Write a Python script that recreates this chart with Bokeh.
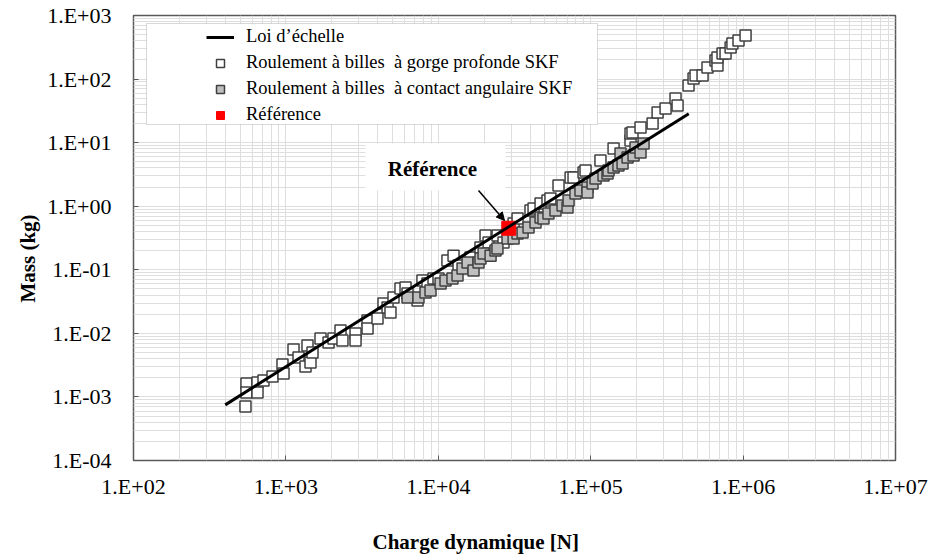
from bokeh.plotting import figure
from bokeh.models import (Range1d, FixedTicker, CustomJSTickFormatter, Legend, LegendItem,
                          BoxAnnotation, Label, Arrow, NormalHead, ColumnDataSource, Title, LogAxis)
from bokeh.embed import file_html
from bokeh.resources import INLINE

# ---------------- data ----------------
deep_load = [551, 551, 543, 651, 651, 713, 817, 950, 965, 1122, 1210, 1345, 1386, 1450, 1495,
             1687, 1905, 2052, 2282, 2350, 2864, 2864, 3433, 3433, 3991, 4368, 4645, 4855, 5083,
             5649, 6095, 6281, 7311, 7870, 8492, 9306, 10030, 11480, 12590, 13580, 16270, 18920,
             20420, 21380, 24470, 26790, 31190, 33110, 40270, 42170, 46880, 52060, 54420, 61490,
             73810, 77140, 89770, 92470, 115900, 141300, 182500, 182500, 188000, 212300, 254700,
             274800, 309900, 360300, 371500, 438500, 473000, 487500, 542000, 584000, 659000,
             679000, 679000, 733000, 767000, 828000, 851000, 933000, 1038000]
deep_mass = [0.00163, 0.00117, 0.000706, 0.00169, 0.00117, 0.00181, 0.00209, 0.00324, 0.00234,
             0.00557, 0.00417, 0.00301, 0.00644, 0.00348, 0.00500, 0.00830, 0.00718, 0.00830,
             0.0111, 0.00773, 0.00995, 0.00773, 0.0159, 0.0119, 0.0171, 0.0295, 0.0255, 0.0213,
             0.0366, 0.0507, 0.0526, 0.0424, 0.0329, 0.0678, 0.0608, 0.0729, 0.0729, 0.140, 0.167,
             0.117, 0.156, 0.224, 0.346, 0.269, 0.346, 0.269, 0.535, 0.641, 0.857, 0.920, 1.10,
             1.23, 1.32, 2.12, 2.83, 2.83, 3.39, 3.65, 5.24, 8.09, 10.8, 13.9, 14.4, 17.3, 20.0,
             29.8, 34.4, 49.5, 38.4, 79.2, 102, 114, 114, 152, 196, 163, 218, 252, 252, 314, 363,
             404, 484]

angular_load = [6281, 7413, 8240, 8890, 10350, 11150, 12390, 13370, 14420, 15560, 17030, 18370,
                18920, 19820, 22030, 23720, 24440, 28460, 31190, 33110, 35730, 39090, 43450, 46880,
                48980, 52840, 58730, 65340, 70470, 71590, 79430, 85700, 95280, 95280, 102800,
                107600, 121400, 128900, 130900, 141300, 152100, 156900, 161800, 174600, 191000,
                196800, 212300, 222300]
angular_mass = [0.0366, 0.0366, 0.0439, 0.0472, 0.0608, 0.0678, 0.0729, 0.0812, 0.105, 0.130,
                0.0973, 0.130, 0.150, 0.180, 0.167, 0.201, 0.216, 0.310, 0.310, 0.372, 0.386,
                0.462, 0.555, 0.664, 0.641, 0.767, 0.857, 1.03, 0.954, 1.23, 1.58, 1.77, 1.97,
                1.64, 2.28, 2.73, 3.04, 3.27, 3.65, 4.06, 4.37, 6.75, 4.70, 5.84, 6.28, 8.39, 7.00,
                9.70]

law_load = [400, 440000]
law_mass = [0.00075, 28.5]

ref_load = [29000]
ref_mass = [0.45]

x_ticks = [1e2, 1e3, 1e4, 1e5, 1e6, 1e7]
y_ticks = [1e-4, 1e-3, 1e-2, 1e-1, 1e0, 1e1, 1e2, 1e3]
minor_mult = [2, 3, 4, 5, 6, 7, 8, 9]
x_minor = [m * t for t in x_ticks[:-1] for m in minor_mult]
y_minor = [m * t for t in y_ticks[:-1] for m in minor_mult]

series_names = ["Loi d’échelle",
                "Roulement à billes  à gorge profonde SKF",
                "Roulement à billes  à contact angulaire SKF",
                "Référence"]
x_title = "Charge dynamique [N]"
y_title = "Mass (kg)"
note_text = "Référence"

FONT = "Liberation Serif"

# ---------------- figure ----------------
p = figure(width=932, height=560, x_axis_type="log", y_axis_type="log",
           x_range=Range1d(1e2, 1e7), y_range=Range1d(1e-4, 1e3),
           output_backend="svg", toolbar_location=None,
           min_border_left=133, min_border_right=37, min_border_top=15, min_border_bottom=100)
p.background_fill_color = "white"
p.border_fill_color = "white"
p.outline_line_color = "#595959"
p.outline_line_width = 1.5

fmt_code = """
const e = Math.round(Math.log10(tick));
const s = e < 0 ? "-" : "+";
const a = Math.abs(e);
return "1.E" + s + (a < 10 ? "0" : "") + a;
"""
p.xaxis.ticker = FixedTicker(ticks=x_ticks, minor_ticks=x_minor)
p.yaxis.ticker = FixedTicker(ticks=y_ticks, minor_ticks=y_minor)
for ax in (p.xaxis, p.yaxis):
    ax.formatter = CustomJSTickFormatter(code=fmt_code)
    ax.major_label_text_font = FONT
    ax.major_label_text_font_size = "22px"
    ax.major_label_text_color = "black"
    ax.axis_line_color = None
    ax.major_tick_in = 5
    ax.major_tick_out = 0
    ax.major_tick_line_color = "#595959"
    ax.minor_tick_line_color = None
p.xaxis.major_label_standoff = 9
p.yaxis.major_label_standoff = 18

for g in (p.xgrid, p.ygrid):
    g.grid_line_color = "#dedede"
    g.grid_line_width = 1
    g.minor_grid_line_color = "#dedede"
    g.minor_grid_line_width = 1

# blank spacer axis (white tick on white, empty label): pushes the x title down
spacer = LogAxis(ticker=FixedTicker(ticks=[x_ticks[0]]),
                 formatter=CustomJSTickFormatter(code='return ""'),
                 axis_line_color=None,
                 major_tick_in=0, major_tick_out=24, major_tick_line_color="white",
                 minor_tick_in=0, minor_tick_out=0, minor_tick_line_color=None,
                 major_label_standoff=0, major_label_text_font_size="1px",
                 major_label_text_color="white")
p.add_layout(spacer, "below")

# ---------------- glyphs ----------------
deep_src = ColumnDataSource(dict(x=deep_load, y=deep_mass))
ang_src = ColumnDataSource(dict(x=angular_load, y=angular_mass))
r_deep = p.scatter("x", "y", source=deep_src, marker="square", size=11,
                   fill_color="white", line_color="#404040", line_width=1.5)
r_ang = p.scatter("x", "y", source=ang_src, marker="square", size=11,
                  fill_color="#bfbfbf", line_color="#404040", line_width=1.5)
r_ref = p.scatter(ref_load, ref_mass, marker="square", size=14,
                  fill_color="#ff0000", line_color="#ff0000")
r_law = p.line(law_load, law_mass, line_color="black", line_width=3)

# ---------------- legend ----------------
p.add_layout(BoxAnnotation(left=13, right=464, top=437, bottom=336,
                           left_units="screen", right_units="screen",
                           top_units="screen", bottom_units="screen",
                           fill_color="white", fill_alpha=1.0,
                           line_color="#808080", line_width=1))
legend = Legend(items=[LegendItem(label=series_names[0], renderers=[r_law]),
                       LegendItem(label=series_names[1], renderers=[r_deep]),
                       LegendItem(label=series_names[2], renderers=[r_ang]),
                       LegendItem(label=series_names[3], renderers=[r_ref])],
                location=(73, 335), orientation="vertical",
                background_fill_alpha=0, border_line_color=None,
                padding=4, spacing=5, glyph_width=28, glyph_height=20,
                label_standoff=12, label_text_font=FONT, label_text_font_size="18.5px",
                label_text_color="black", label_height=20)
p.add_layout(legend, "center")

# ---------------- annotation ----------------
p.add_layout(BoxAnnotation(left=232, right=372, top=317, bottom=270,
                           left_units="screen", right_units="screen",
                           top_units="screen", bottom_units="screen",
                           fill_color="white", fill_alpha=1.0, line_color=None))
p.add_layout(Label(x=299, y=292, x_units="screen", y_units="screen", text=note_text,
                   text_font=FONT, text_font_size="21px", text_font_style="bold",
                   text_align="center", text_baseline="middle", text_color="black"))
p.add_layout(Arrow(x_start=345, y_start=270, x_end=371, y_end=240,
                   start_units="screen", end_units="screen",
                   line_color="black", line_width=1.5,
                   end=NormalHead(size=8, fill_color="black", line_color="black")))

# ---------------- axis titles ----------------
p.add_layout(Title(text=x_title, align="left", offset=239, standoff=4,
                   text_font=FONT, text_font_size="21px", text_font_style="bold",
                   text_color="black"), "below")
p.add_layout(Title(text=y_title, align="left", offset=158, standoff=10,
                   text_font=FONT, text_font_size="21px", text_font_style="bold",
                   text_color="black"), "left")

open("out.html", "w").write(file_html(p, INLINE))
